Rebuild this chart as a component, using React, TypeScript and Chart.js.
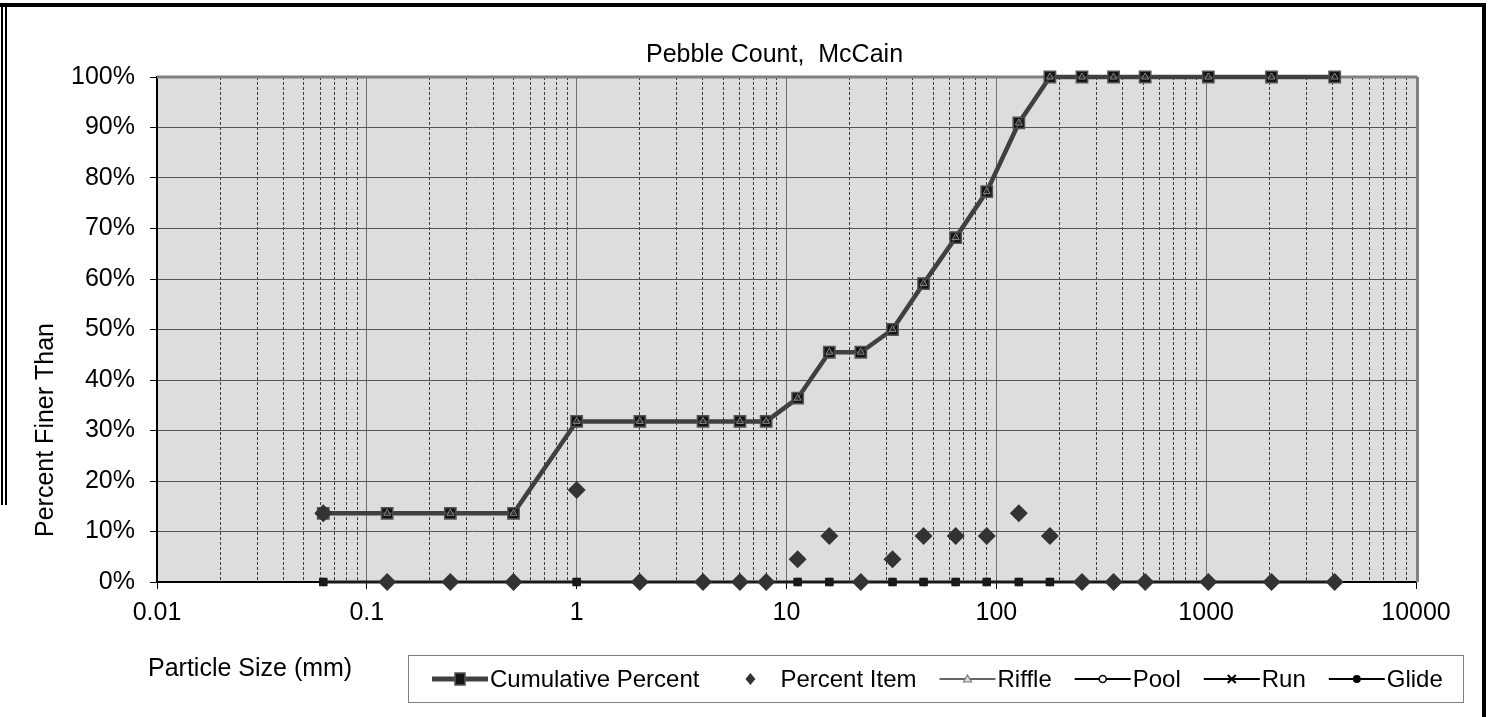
import React, { useEffect, useRef } from "react";
import { Chart, registerables } from "chart.js";

Chart.register(...registerables);

// ---------- data ----------
const SIZES_MM = [0.062, 0.125, 0.25, 0.5, 1, 2, 4, 6, 8, 11.3, 16, 22.6, 32, 45, 64, 90, 128, 180, 256, 362, 512, 1024, 2048, 4096];
const CUMULATIVE_PERCENT = [13.6, 13.6, 13.6, 13.6, 31.8, 31.8, 31.8, 31.8, 31.8, 36.4, 45.5, 45.5, 50.0, 59.1, 68.2, 77.3, 90.9, 100, 100, 100, 100, 100, 100, 100];
const PERCENT_ITEM = [13.6, 0, 0, 0, 18.2, 0, 0, 0, 0, 4.5, 9.1, 0, 4.5, 9.1, 9.1, 9.1, 13.6, 9.1, 0, 0, 0, 0, 0, 0];
const RIFFLE = [13.6, 13.6, 13.6, 13.6, 31.8, 31.8, 31.8, 31.8, 31.8, 36.4, 45.5, 45.5, 50.0, 59.1, 68.2, 77.3, 90.9, 100, 100, 100, 100, 100, 100, 100];
const POOL = [0, 0, 0, 0, 0, 0, 0, 0, 0, 0, 0, 0, 0, 0, 0, 0, 0, 0, 0, 0, 0, 0, 0, 0];
const RUN = [0, 0, 0, 0, 0, 0, 0, 0, 0, 0, 0, 0, 0, 0, 0, 0, 0, 0, 0, 0, 0, 0, 0, 0];
const GLIDE = [0, 0, 0, 0, 0, 0, 0, 0, 0, 0, 0, 0, 0, 0, 0, 0, 0, 0, 0, 0, 0, 0, 0, 0];

const X_TICKS = [0.01, 0.1, 1, 10, 100, 1000, 10000];
const X_TICK_LABELS = ["0.01", "0.1", "1", "10", "100", "1000", "10000"];
const Y_MIN = 0;
const Y_MAX = 100;
const Y_STEP = 10;

const TITLE = "Pebble Count,  McCain";
const X_TITLE = "Particle Size (mm)";
const Y_TITLE = "Percent Finer Than";
const LEGEND_LABELS = ["Cumulative Percent", "Percent Item", "Riffle", "Pool", "Run", "Glide"];

const FONT = "'Liberation Sans', Arial, sans-serif";

const pts = (ys: number[]) => SIZES_MM.map((x, i) => ({ x, y: ys[i] }));

const isDecade = (v: number) => {
  const l = Math.log10(v);
  return Math.abs(l - Math.round(l)) < 1e-6;
};
const isIntMantissa = (v: number) => {
  const e = Math.floor(Math.log10(v) + 1e-9);
  const m = v / Math.pow(10, e);
  return Math.abs(m - Math.round(m)) < 1e-6;
};

function drawMarker(ctx: CanvasRenderingContext2D, kind: string, x: number, y: number) {
  ctx.save();
  ctx.setLineDash([]);
  if (kind === "square") {
    ctx.fillStyle = "#141414";
    ctx.strokeStyle = "#555";
    ctx.lineWidth = 1.5;
    ctx.fillRect(x - 5, y - 6, 10, 12);
    ctx.strokeRect(x - 5, y - 6, 10, 12);
  } else if (kind === "diamond") {
    ctx.fillStyle = "#333";
    ctx.beginPath();
    ctx.moveTo(x, y - 6);
    ctx.lineTo(x + 5, y);
    ctx.lineTo(x, y + 6);
    ctx.lineTo(x - 5, y);
    ctx.closePath();
    ctx.fill();
  } else if (kind === "triangle") {
    ctx.strokeStyle = "#777";
    ctx.fillStyle = "#ddd";
    ctx.lineWidth = 1.2;
    ctx.beginPath();
    ctx.moveTo(x, y - 4);
    ctx.lineTo(x + 4, y + 3);
    ctx.lineTo(x - 4, y + 3);
    ctx.closePath();
    ctx.fill();
    ctx.stroke();
  } else if (kind === "openCircle") {
    ctx.strokeStyle = "#000";
    ctx.fillStyle = "#fff";
    ctx.lineWidth = 1.5;
    ctx.beginPath();
    ctx.arc(x, y, 3.5, 0, Math.PI * 2);
    ctx.fill();
    ctx.stroke();
  } else if (kind === "cross") {
    ctx.strokeStyle = "#000";
    ctx.lineWidth = 2;
    ctx.beginPath();
    ctx.moveTo(x - 4, y - 4);
    ctx.lineTo(x + 4, y + 4);
    ctx.moveTo(x + 4, y - 4);
    ctx.lineTo(x - 4, y + 4);
    ctx.stroke();
  } else if (kind === "dot") {
    ctx.fillStyle = "#000";
    ctx.beginPath();
    ctx.arc(x, y, 4, 0, Math.PI * 2);
    ctx.fill();
  }
  ctx.restore();
}

const decorPlugin = {
  id: "decor",
  beforeDraw(chart: any) {
    const { ctx, chartArea: a } = chart;
    ctx.save();
    ctx.fillStyle = "#ffffff";
    ctx.fillRect(0, 0, chart.width, chart.height);
    ctx.fillStyle = "#dddddd";
    ctx.fillRect(a.left, a.top, a.right - a.left, a.bottom - a.top);
    ctx.restore();
  },
  beforeDatasetsDraw(chart: any) {
    const { ctx, chartArea: a } = chart;
    ctx.save();
    ctx.strokeStyle = "#808080";
    ctx.lineWidth = 3;
    ctx.beginPath();
    ctx.moveTo(a.left, a.top);
    ctx.lineTo(a.right + 1.5, a.top);
    ctx.moveTo(a.right + 1.5, a.top);
    ctx.lineTo(a.right + 1.5, a.bottom);
    ctx.stroke();
    ctx.restore();
  },
  afterDraw(chart: any) {
    const { ctx, chartArea: a } = chart;
    ctx.save();
    // title
    ctx.fillStyle = "#000";
    ctx.font = `25px ${FONT}`;
    ctx.textAlign = "center";
    ctx.textBaseline = "alphabetic";
    ctx.fillText(TITLE, (a.left + a.right) / 2 - 12, 62);
    // x title
    ctx.textAlign = "left";
    ctx.fillText(X_TITLE, 148, 676);
    // y title
    ctx.save();
    ctx.translate(53, 430);
    ctx.rotate(-Math.PI / 2);
    ctx.textAlign = "center";
    ctx.fillText(Y_TITLE, 0, 0);
    ctx.restore();

    // legend box
    ctx.strokeStyle = "#808080";
    ctx.lineWidth = 1;
    ctx.strokeRect(408.5, 655.5, 1055, 47);
    const cy = 679;
    const styles = [
      { line: "#404040", lw: 5, marker: "square" },
      { line: null, lw: 0, marker: "diamond" },
      { line: "#666", lw: 2, marker: "triangle" },
      { line: "#000", lw: 2, marker: "openCircle" },
      { line: "#000", lw: 2, marker: "cross" },
      { line: "#000", lw: 2, marker: "dot" },
    ];
    ctx.font = `24px ${FONT}`;
    ctx.textAlign = "left";
    ctx.textBaseline = "middle";
    let x = 432;
    LEGEND_LABELS.forEach((label, i) => {
      const s = styles[i];
      if (s.line) {
        ctx.strokeStyle = s.line;
        ctx.lineWidth = s.lw;
        ctx.beginPath();
        ctx.moveTo(x, cy);
        ctx.lineTo(x + 56, cy);
        ctx.stroke();
      }
      drawMarker(ctx, s.marker, x + 28, cy);
      ctx.fillStyle = "#000";
      ctx.fillText(label, x + 58, cy + 1);
      x += 58 + ctx.measureText(label).width + 23;
    });

    // outer frame
    ctx.fillStyle = "#000";
    ctx.fillRect(0, 3, 1486, 4);
    ctx.fillRect(1482, 3, 4, 714);
    ctx.fillRect(1, 3, 2, 502);
    ctx.fillRect(5, 3, 2, 502);
    ctx.restore();
  },
};

export default function App() {
  const ref = useRef<HTMLCanvasElement | null>(null);

  useEffect(() => {
    if (!ref.current) return;
    Chart.defaults.font.family = FONT;
    const chart = new Chart(ref.current, {
      type: "line",
      data: {
        datasets: [
          {
            label: LEGEND_LABELS[1],
            data: pts(PERCENT_ITEM),
            showLine: false,
            clip: false,
            pointStyle: "rectRot",
            pointRadius: 9,
            pointHoverRadius: 9,
            pointBackgroundColor: "#333333",
            pointBorderColor: "#333333",
            pointBorderWidth: 0,
            order: 0,
          },
          {
            label: LEGEND_LABELS[2],
            data: pts(RIFFLE),
            clip: false,
            borderColor: "#404040",
            borderWidth: 1.5,
            pointStyle: "triangle",
            pointRadius: 4,
            pointBackgroundColor: "rgba(0,0,0,0)",
            pointBorderColor: "#8a8a8a",
            pointBorderWidth: 1,
            order: 1,
          },
          {
            label: LEGEND_LABELS[0],
            data: pts(CUMULATIVE_PERCENT),
            clip: false,
            borderColor: "#404040",
            borderWidth: 4.5,
            pointStyle: "rect",
            pointRadius: 8,
            pointBackgroundColor: "#141414",
            pointBorderColor: "#555555",
            pointBorderWidth: 1.5,
            order: 2,
          },
          {
            label: LEGEND_LABELS[3],
            data: pts(POOL),
            clip: false,
            borderColor: "#1a1a1a",
            borderWidth: 3,
            pointStyle: "circle",
            pointRadius: 3.5,
            pointBackgroundColor: "#1a1a1a",
            pointBorderColor: "#1a1a1a",
            pointBorderWidth: 1.5,
            order: 3,
          },
          {
            label: LEGEND_LABELS[4],
            data: pts(RUN),
            clip: false,
            borderColor: "#1a1a1a",
            borderWidth: 2,
            pointStyle: "crossRot",
            pointRadius: 4.5,
            pointBorderColor: "#1a1a1a",
            pointBorderWidth: 3,
            order: 4,
          },
          {
            label: LEGEND_LABELS[5],
            data: pts(GLIDE),
            clip: false,
            borderColor: "#1a1a1a",
            borderWidth: 2,
            pointStyle: "rect",
            pointRadius: 6,
            pointBackgroundColor: "#1a1a1a",
            pointBorderColor: "#1a1a1a",
            pointBorderWidth: 0,
            order: 5,
          },
        ],
      },
      options: {
        responsive: false,
        animation: false,
        devicePixelRatio: 1,
        layout: { padding: { top: 77, right: 73, bottom: 85, left: 0 } },
        plugins: {
          legend: { display: false },
          title: { display: false },
          tooltip: { enabled: false },
        },
        elements: { line: { tension: 0 } },
        scales: {
          x: {
            type: "logarithmic",
            position: "bottom",
            min: X_TICKS[0],
            max: X_TICKS[X_TICKS.length - 1],
            afterBuildTicks: (scale: any) => {
              scale.ticks = X_TICKS.map((value) => ({ value, major: true }));
            },
            afterFit: (scale: any) => {
              scale.height = 50;
            },
            ticks: {
              autoSkip: false,
              maxRotation: 0,
              padding: 9,
              color: "#000",
              font: { size: 25, family: FONT },
              callback: (_v: any, i: number) => X_TICK_LABELS[i],
            },
            grid: {
              color: "#6e6e6e",
              lineWidth: 1,
              drawTicks: true,
              tickLength: 7,
              tickColor: "#000",
              tickWidth: 1,
            },
            border: { display: true, color: "#000", width: 2 },
          },
          x2: {
            type: "logarithmic",
            position: "bottom",
            min: X_TICKS[0],
            max: X_TICKS[X_TICKS.length - 1],
            afterFit: (scale: any) => {
              scale.height = 0;
            },
            ticks: { display: false, autoSkip: false },
            grid: {
              drawTicks: false,
              lineWidth: 1,
              color: (c: any) => {
                const v = c.tick ? c.tick.value : 1;
                if (isDecade(v) || !isIntMantissa(v)) return "rgba(0,0,0,0)";
                return "#3c3c3c";
              },
            },
            border: { display: false, dash: [3, 2] },
          },
          y: {
            type: "linear",
            min: Y_MIN,
            max: Y_MAX,
            afterFit: (scale: any) => {
              scale.width = 157;
            },
            ticks: {
              stepSize: Y_STEP,
              padding: 15,
              color: "#000",
              font: { size: 25, family: FONT },
              callback: (v: any) => `${v}%`,
            },
            grid: {
              color: "#555555",
              lineWidth: 1,
              tickLength: 7,
              tickColor: "#000",
            },
            border: { display: true, color: "#000", width: 2 },
          },
        },
      },
      plugins: [decorPlugin],
    } as any);
    return () => chart.destroy();
  }, []);

  return (
    <div style={{ position: "absolute", left: 0, top: 0, width: 1489, height: 717, background: "#fff" }}>
      <canvas ref={ref} width={1489} height={717} style={{ display: "block", width: 1489, height: 717 }} />
    </div>
  );
}
